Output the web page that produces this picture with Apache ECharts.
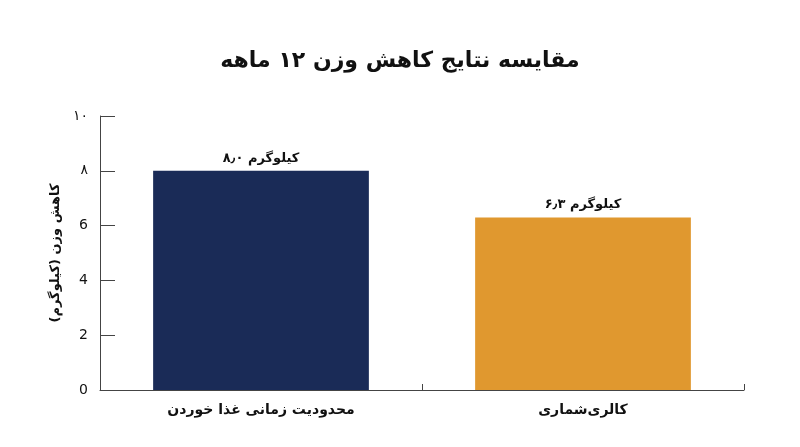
<!DOCTYPE html>
<html><head><meta charset="utf-8">
<script src="https://cdn.jsdelivr.net/npm/echarts@6/dist/echarts.min.js"></script>
<style>html,body{margin:0;padding:0;background:#fff}#c{width:800px;height:447px}</style>
</head><body><div id="c"></div>
<script>
const categories = ['محدودیت زمانی غذا خوردن', 'کالری‌شماری'];
const values = [8.0, 6.3];
const valueLabels = ['۸٫۰ کیلوگرم', '۶٫۳ کیلوگرم'];
const tickLabels = {0: '0', 2: '2', 4: '4', 6: '6', 8: '۸', 10: '۱۰'};
const colors = ['#1a2b57', '#e0982f'];
const title = 'مقایسه نتایج کاهش وزن ۱۲ ماهه';
const yName = 'کاهش وزن (کیلوگرم)';

const font = "'DejaVu Sans', 'Noto Sans', sans-serif";
const chart = echarts.init(document.getElementById('c'));
chart.setOption({
  animation: false,
  textStyle: {fontFamily: font},
  title: {text: title, left: 'center', top: 45,
    textStyle: {fontFamily: font, fontSize: 22, fontWeight: 'bold', color: '#111'}},
  grid: {left: 100, right: 56, top: 116, bottom: 57},
  xAxis: {
    type: 'category', data: categories,
    axisLine: {lineStyle: {color: '#444', width: 1}},
    axisTick: {show: true, inside: true, length: 6, lineStyle: {color: '#444'}},
    axisLabel: {fontSize: 14, fontWeight: 'bold', color: '#111', margin: 13, fontFamily: font}
  },
  yAxis: {
    type: 'value', min: 0, max: 10, interval: 2,
    name: yName, nameLocation: 'middle', nameGap: 38, nameRotate: 90,
    nameTextStyle: {fontSize: 13, fontWeight: 'bold', color: '#111', fontFamily: font},
    axisLine: {show: true, lineStyle: {color: '#444', width: 1}},
    axisTick: {show: true, inside: true, length: 15, lineStyle: {color: '#444'}},
    splitLine: {show: false},
    axisLabel: {fontSize: 14, color: '#111', margin: 12, fontFamily: font,
      formatter: v => tickLabels[v] ?? String(v)}
  },
  series: [{
    type: 'bar', barWidth: '67%',
    data: values.map((v, i) => ({value: v, itemStyle: {color: colors[i]}})),
    label: {show: true, position: 'top', distance: 6, fontSize: 13, fontWeight: 'bold', color: '#111',
      fontFamily: font, formatter: p => valueLabels[p.dataIndex]}
  }]
});
</script></body></html>
